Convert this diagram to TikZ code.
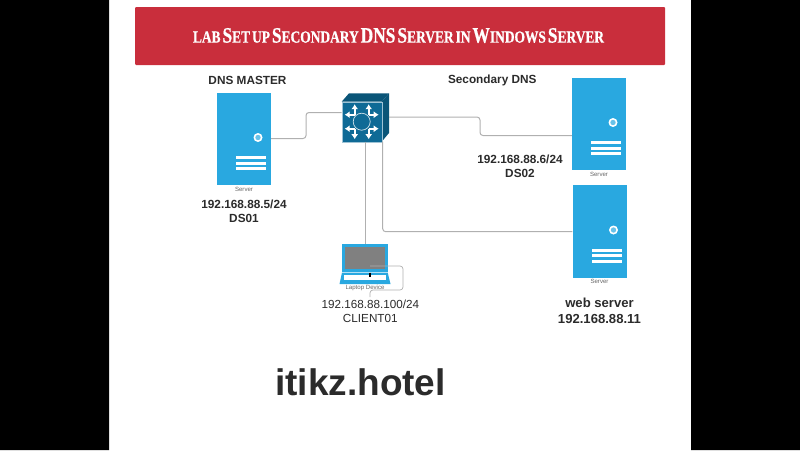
\documentclass[tikz,border=0pt]{standalone}
\usepackage{fontspec}
\setmainfont{Liberation Sans}
\newfontfamily\titlefont[FakeStretch=0.79,FakeBold=0.6]{Liberation Serif}
\usetikzlibrary{arrows.meta}
\definecolor{bannerred}{HTML}{C92E3C}
\definecolor{serverblue}{HTML}{29A8E0}
\definecolor{switchblue}{HTML}{0F6A96}
\definecolor{switchdark}{HTML}{0A5578}
\definecolor{wiregray}{HTML}{B0B0B0}
\definecolor{labeldark}{HTML}{2B2B2B}
\newcommand{\capsmall}[2]{{\fontsize{22}{24}\selectfont #1}{\fontsize{17}{18}\selectfont #2}}
\tikzset{
  wire/.style={draw=wiregray,line width=1pt,rounded corners=3pt},
  serverbox/.style={fill=serverblue,minimum width=54pt,minimum height=92.5pt,inner sep=0pt},
  tinylabel/.style={font=\fontsize{6.1}{7}\selectfont,text=black!60,inner sep=0pt},
  boldlabel/.style={font=\bfseries\fontsize{11.8}{14}\selectfont,text=labeldark,align=center,inner sep=0pt},
  thinlabel/.style={font=\fontsize{11.7}{14}\selectfont,text=labeldark,align=center,inner sep=0pt},
  switcharrow/.style={draw=white,line width=1.7pt,-{Latex[length=5pt,width=7pt]}}
}
\begin{document}
\begin{tikzpicture}[x=1pt,y=-1pt]
  \useasboundingbox (0,0) rectangle (800,450);
  \fill[black] (0,0) rectangle (109,450) (691,0) rectangle (800,450);
  % banner
  \node[fill=bannerred,rounded corners=1pt,minimum width=530pt,minimum height=58pt,inner sep=0pt] (banner) at (400,36) {};
  \node[text=white,inner sep=0pt,font=\titlefont\bfseries] (title) at (398.5,35.5)
    {\capsmall{}{LAB} \capsmall{S}{ET} \capsmall{}{UP} \capsmall{S}{ECONDARY} \capsmall{DNS}{} \capsmall{S}{ERVER} \capsmall{}{IN} \capsmall{W}{INDOWS} \capsmall{S}{ERVER}};
  % servers
  \foreach \sname/\sx/\sy in {master/244/139, second/599/124, web/599.5/231.5} {
    \node[serverbox] (\sname) at (\sx,\sy) {};
    \fill[white] (\sx+14,\sy-1.5) circle (4.5);
    \fill[serverblue!70!white] (\sx+14,\sy-1.5) circle (2.7);
    \foreach \ybar in {18.7,24.2,29.7} {
      \fill[white] (\sx-8,\sy+\ybar-1.3) rectangle (\sx+22,\sy+\ybar+1.3);
    }
    \node[tinylabel] (\sname text) at (\sx,\sy+50) {Server};
  }
  % switch
  \fill[switchdark] (381.7,101.7) -- (389,93.3) -- (389,133) -- (381.7,141.7) -- cycle;
  \fill[switchdark] (341.7,101.7) -- (349,93.3) -- (389,93.3) -- (381.7,101.7) -- cycle;
  \node[fill=switchblue,draw=white!60!switchblue,line width=0.4pt,minimum size=40pt,inner sep=0pt] (switch) at (361.7,121.7) {};
  \draw[white!80!switchblue,fill=switchblue,line width=0.7pt] (switch.center) circle (8.5);
  \foreach \sgnx/\sgny in {-1/-1,1/-1,-1/1,1/1} {
    \draw[switcharrow] (361.7+\sgnx*7,121.7+\sgny*7) -- (361.7+\sgnx*7,121.7+\sgny*17.5);
    \draw[switcharrow] (361.7+\sgnx*7,121.7+\sgny*7) -- (361.7+\sgnx*17,121.7+\sgny*7);
  }
  % laptop
  \node[draw=serverblue,line width=3pt,fill=black!50,minimum width=42.5pt,minimum height=25pt,inner sep=0pt] (screen) at (364.8,258) {};
  \fill[serverblue] (342,272.5) -- (387.7,272.5) -- (390.5,284) -- (339.5,284) -- cycle;
  \fill[white] (344,275) rectangle (386,279.7);
  \node[tinylabel] (laptoptext) at (365,287.5) {Laptop Device};
  \coordinate (loopmid) at (370,266);
  \coordinate (loopright) at (403,266);
  \coordinate (loopbot) at (403,290);
  \coordinate (loopleft) at (370,290);
  \coordinate (loopend) at (370,297);
  \coordinate (jacktop) at (370,272.5);
  \coordinate (jackbot) at (370,277);
  % wires
  \draw[wire] (master.east |- 0,138.5) -- (306,138.5) -- (306,112.5) -- (switch.west |- 0,112.5);
  \draw[wire] (389,117) -- (480,117) -- (480,135.5) -- (second.west |- 0,135.5);
  \draw[wire] (365.3,141.7) -- (365.3,244);
  \draw[wire] (382.7,141.7) -- (382.7,231.7) -- (web.west |- 0,231.7);
  \draw[wire,line width=0.7pt] (loopmid) -- (loopright) -- (loopbot) -- (loopleft) -- (loopend);
  \draw[black,line width=1.2pt] (jacktop) -- (jackbot);
  % labels
  \node[boldlabel] (masterlabel) at (247.5,80) {DNS MASTER};
  \node[boldlabel] (secondlabel) at (492.3,80) {Secondary DNS};
  \node[boldlabel] (ds01) at (244,211) {192.168.88.5/24\\DS01};
  \node[boldlabel] (ds02) at (520,166.4) {192.168.88.6/24\\DS02};
  \node[thinlabel] (client) at (370.3,311) {192.168.88.100/24\\CLIENT01};
  \node[boldlabel,font=\bfseries\fontsize{13.1}{16}\selectfont] (webserver) at (599.5,311) {web server\\192.168.88.11};
  \node[font=\bfseries\fontsize{37}{40}\selectfont,text=labeldark,inner sep=0pt] (hotel) at (360.5,382) {itikz.hotel};
\end{tikzpicture}
\end{document}
